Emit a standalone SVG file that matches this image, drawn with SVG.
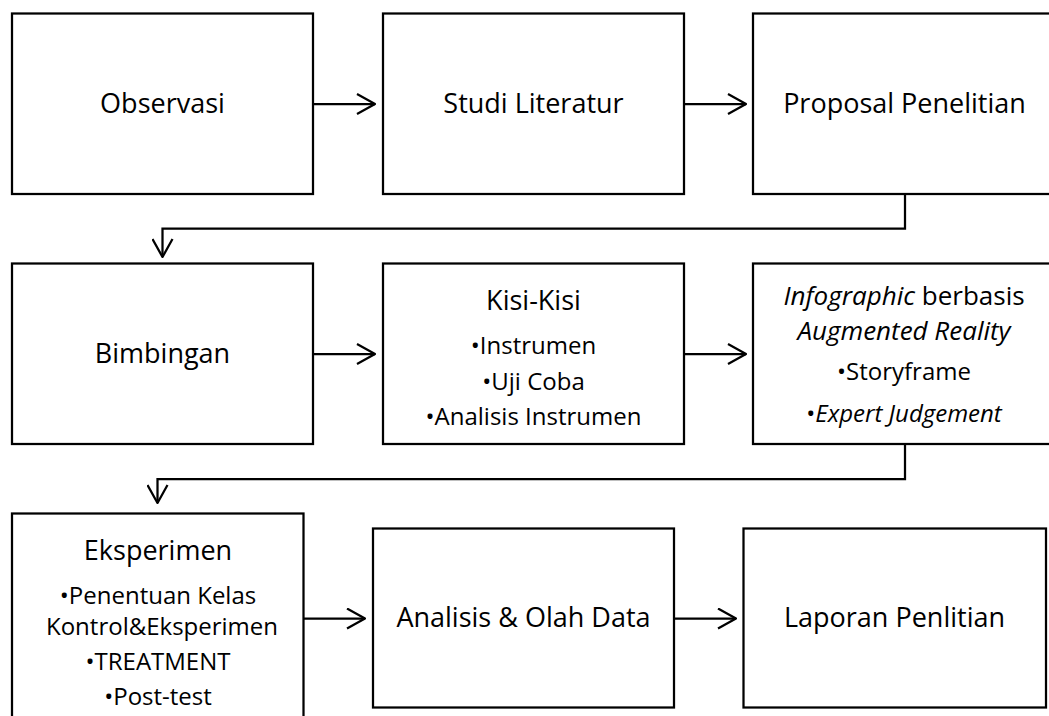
<svg xmlns="http://www.w3.org/2000/svg" width="1049" height="716" viewBox="0 0 1049 716">
<style>
.box{fill:#fff;stroke:#000;stroke-width:2.25}
.con{fill:none;stroke:#000;stroke-width:2.25;marker-end:url(#arr)}
text{font-family:"Open Sans","Noto Sans","Liberation Sans",sans-serif;fill:#000;text-anchor:middle}
.h{font-size:27px}
.h2{font-size:26px}
.b{font-size:24px}
.i{font-style:italic}
</style>
<defs>
<marker id="arr" viewBox="0 0 20 22" refX="19" refY="11" markerWidth="20" markerHeight="22" markerUnits="userSpaceOnUse" orient="auto">
<path d="M1,1 L19,11 L1,21" fill="none" stroke="#000" stroke-width="2.25" stroke-linejoin="round"/>
</marker>
</defs>
<rect width="1049" height="716" fill="#fff"/>
<g id="connectors">
<path class="con" d="M313,104 H375"/>
<path class="con" d="M684,104 H746"/>
<path class="con" d="M905,194 V228.5 H162.5 V257"/>
<path class="con" d="M313,354 H375"/>
<path class="con" d="M684,354 H746"/>
<path class="con" d="M905,444 V479 H157.5 V503"/>
<path class="con" d="M303,618.5 H365"/>
<path class="con" d="M674,618.5 H736"/>
</g>
<g id="observasi"><rect class="box" x="12" y="13.5" width="301" height="180.5"/><text class="h" x="162.5" y="113">Observasi</text></g>
<g id="studi"><rect class="box" x="383" y="13.5" width="301" height="180.5"/><text class="h" x="533.5" y="113">Studi Literatur</text></g>
<g id="proposal"><rect class="box" x="753" y="13.5" width="301" height="180.5"/><text class="h" x="904.5" y="113">Proposal Penelitian</text></g>
<g id="bimbingan"><rect class="box" x="12" y="263.5" width="301" height="180.5"/><text class="h" x="162.5" y="363">Bimbingan</text></g>
<g id="kisi"><rect class="box" x="383" y="263.5" width="301" height="180.5"/>
<text x="533.5" y="310"><tspan class="h" x="533.5" y="310">Kisi-Kisi</tspan><tspan class="b" x="533.5" y="354">•Instrumen</tspan><tspan class="b" x="533.5" y="389.5">•Uji Coba</tspan><tspan class="b" x="533.5" y="425">•Analisis Instrumen</tspan></text></g>
<g id="infographic"><rect class="box" x="753" y="263.5" width="301" height="180.5"/>
<text x="904" y="304.5"><tspan class="h2" x="904" y="304.5"><tspan class="i">Infographic</tspan> berbasis</tspan><tspan class="h2 i" x="904" y="339.5">Augmented Reality</tspan><tspan class="b" x="904" y="380">•Storyframe</tspan><tspan class="b" x="904" y="421.5">•<tspan class="i">Expert Judgement</tspan></tspan></text></g>
<g id="eksperimen"><rect class="box" x="12" y="513.5" width="291.5" height="220"/>
<text x="158" y="560"><tspan class="h" x="158" y="560">Eksperimen</tspan><tspan class="b" x="158" y="603.5">•Penentuan Kelas</tspan><tspan class="b" x="162" y="635">Kontrol&amp;Eksperimen</tspan><tspan class="b" x="158" y="670">•TREATMENT</tspan><tspan class="b" x="158" y="705">•Post-test</tspan></text></g>
<g id="analisis"><rect class="box" x="373" y="528.5" width="301" height="179"/><text class="h" x="523.5" y="626.5">Analisis &amp; Olah Data</text></g>
<g id="laporan"><rect class="box" x="743.5" y="528.5" width="302.5" height="179"/><text class="h" x="894.5" y="626.5">Laporan Penlitian</text></g>
</svg>
